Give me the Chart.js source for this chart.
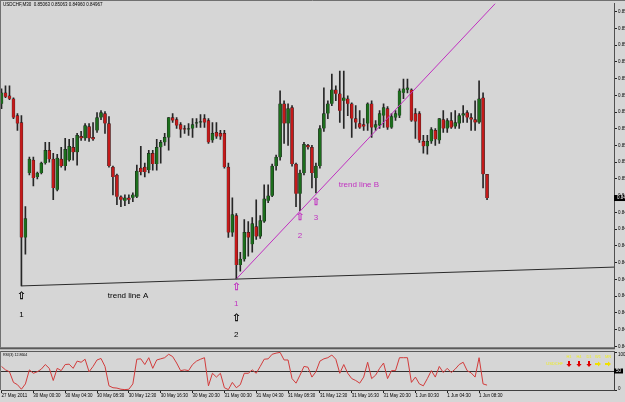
<!DOCTYPE html>
<html>
<head>
<meta charset="utf-8">
<script src="https://cdn.jsdelivr.net/npm/chart.js@4.4.0/dist/chart.umd.min.js"></script>
<style>
  html, body { margin: 0; padding: 0; background: #d6d6d6; overflow: hidden; }
  #wrap { position: relative; width: 625px; height: 402px; }
  #main { position: absolute; left: 0; top: 0; }
  #rsi { position: absolute; left: 0; top: 351px; }
</style>
</head>
<body>
<div id="wrap">
  <canvas id="main" width="625" height="351"></canvas>
  <canvas id="rsi" width="625" height="51"></canvas>
</div>
<script>
// USDCHF M30, bars 0..122 (27 May 2011 20:30 -> 1 Jun 09:30)
const opens = [
  0.85348,0.85392,0.85380,0.85368,0.85300,0.85272,0.84808,0.85068,0.85120,0.85052,
  0.85068,0.85108,0.85160,0.85124,0.85000,0.85124,0.85096,0.85120,0.85172,0.85152,
  0.85216,0.85208,0.85256,0.85212,0.85240,0.85292,0.85308,0.85268,0.85092,0.85060,
  0.84972,0.84956,0.84968,0.84968,0.84972,0.85088,0.85092,0.85080,0.85148,0.85104,
  0.85172,0.85192,0.85212,0.85292,0.85284,0.85264,0.85248,0.85244,0.85248,0.85268,
  0.85272,0.85288,0.85280,0.85200,0.85232,0.85228,0.85228,0.85092,0.84828,0.84896,
  0.84696,0.84720,0.84828,0.84780,0.84852,0.84812,0.84872,0.84956,0.84976,0.85096,
  0.85132,0.85348,0.85268,0.85332,0.85104,0.84984,0.85068,0.85180,0.85172,0.85048,
  0.85096,0.85248,0.85308,0.85348,0.85404,0.85388,0.85360,0.85368,0.85348,0.85288,
  0.85268,0.85264,0.85268,0.85348,0.85252,0.85260,0.85300,0.85328,0.85252,0.85292,
  0.85300,0.85392,0.85404,0.85404,0.85308,0.85308,0.85196,0.85176,0.85196,0.85240,
  0.85200,0.85284,0.85248,0.85280,0.85256,0.85268,0.85300,0.85312,0.85292,0.85284,
  0.85272,0.85372,0.85063
];
const highs = [
  0.85408,0.85420,0.85420,0.85372,0.85308,0.85300,0.84932,0.85132,0.85132,0.85072,
  0.85112,0.85192,0.85192,0.85148,0.85144,0.85172,0.85208,0.85204,0.85208,0.85228,
  0.85236,0.85268,0.85268,0.85272,0.85312,0.85320,0.85316,0.85296,0.85096,0.85064,
  0.84976,0.84980,0.84980,0.84988,0.85100,0.85176,0.85108,0.85160,0.85160,0.85204,
  0.85200,0.85228,0.85292,0.85308,0.85292,0.85272,0.85260,0.85268,0.85288,0.85288,
  0.85304,0.85304,0.85288,0.85272,0.85272,0.85240,0.85240,0.85108,0.84968,0.84904,
  0.84748,0.84880,0.84872,0.84888,0.84960,0.84896,0.85020,0.85020,0.85104,0.85140,
  0.85400,0.85360,0.85348,0.85340,0.85108,0.85080,0.85192,0.85184,0.85180,0.85108,
  0.85260,0.85412,0.85360,0.85468,0.85420,0.85480,0.85480,0.85380,0.85352,0.85340,
  0.85320,0.85288,0.85352,0.85360,0.85280,0.85320,0.85348,0.85336,0.85308,0.85320,
  0.85408,0.85448,0.85448,0.85408,0.85328,0.85316,0.85220,0.85220,0.85252,0.85248,
  0.85288,0.85320,0.85288,0.85312,0.85320,0.85308,0.85340,0.85320,0.85308,0.85360,
  0.85440,0.85392,0.85063
];
const lows = [
  0.85328,0.85372,0.85364,0.85288,0.85240,0.84612,0.84740,0.85060,0.85016,0.85044,
  0.85064,0.85104,0.85112,0.84960,0.84996,0.85092,0.85080,0.85116,0.85120,0.85100,
  0.85200,0.85200,0.85196,0.85200,0.85232,0.85284,0.85228,0.85092,0.84980,0.84940,
  0.84932,0.84936,0.84944,0.84952,0.84968,0.85060,0.85052,0.85068,0.85080,0.85080,
  0.85108,0.85180,0.85160,0.85272,0.85248,0.85212,0.85228,0.85220,0.85212,0.85252,
  0.85252,0.85252,0.85188,0.85192,0.85208,0.85204,0.85088,0.84808,0.84812,0.84640,
  0.84672,0.84712,0.84732,0.84748,0.84800,0.84804,0.84868,0.84948,0.84972,0.85080,
  0.85120,0.85188,0.85180,0.85096,0.84932,0.84916,0.85060,0.85164,0.85008,0.84988,
  0.85088,0.85236,0.85288,0.85340,0.85360,0.85272,0.85248,0.85300,0.85212,0.85248,
  0.85248,0.85240,0.85240,0.85212,0.85240,0.85248,0.85252,0.85244,0.85248,0.85280,
  0.85292,0.85368,0.85392,0.85276,0.85208,0.85192,0.85148,0.85144,0.85188,0.85180,
  0.85188,0.85232,0.85232,0.85248,0.85248,0.85248,0.85272,0.85272,0.85240,0.85240,
  0.85268,0.85008,0.84960
];
const closes = [
  0.85392,0.85376,0.85368,0.85292,0.85268,0.84808,0.84884,0.85124,0.85048,0.85068,
  0.85108,0.85160,0.85124,0.85008,0.85128,0.85096,0.85164,0.85176,0.85152,0.85220,
  0.85208,0.85260,0.85208,0.85204,0.85292,0.85312,0.85268,0.85096,0.85052,0.84972,
  0.84960,0.84968,0.84960,0.84980,0.85076,0.85072,0.85072,0.85148,0.85104,0.85172,
  0.85192,0.85212,0.85292,0.85280,0.85260,0.85244,0.85244,0.85248,0.85264,0.85272,
  0.85276,0.85272,0.85192,0.85228,0.85216,0.85216,0.85092,0.84828,0.84900,0.84696,
  0.84720,0.84828,0.84808,0.84864,0.84812,0.84876,0.84964,0.84976,0.85096,0.85132,
  0.85348,0.85268,0.85328,0.85104,0.84984,0.85068,0.85184,0.85172,0.85068,0.85096,
  0.85248,0.85308,0.85348,0.85404,0.85388,0.85320,0.85372,0.85348,0.85288,0.85272,
  0.85252,0.85256,0.85348,0.85252,0.85264,0.85308,0.85332,0.85252,0.85296,0.85308,
  0.85400,0.85408,0.85412,0.85280,0.85276,0.85200,0.85176,0.85196,0.85244,0.85204,
  0.85288,0.85248,0.85280,0.85252,0.85272,0.85300,0.85308,0.85292,0.85284,0.85272,
  0.85368,0.85063,0.84967
];
// RSI(3)
const rsi = [
  62,53,48,20,14,2,16,53,44,48,
  55,67,57,25,57,51,67,68,57,76,
  73,81,48,62,79,83,62,11,6,5,
  2,1,2,16,81,82,67,85,57,79,
  82,85,94,88,71,51,53,51,67,76,
  81,85,11,44,34,44,6,1,20,6,
  14,44,44,53,44,62,81,82,94,97,
  99,79,79,30,18,39,62,60,34,48,
  76,82,85,92,81,44,67,44,30,25,
  18,34,73,30,39,57,71,30,51,51,
  85,85,85,20,34,16,11,30,51,34,
  62,46,57,46,55,67,73,51,45,34,
  85,16,12.8604
];
// time axis: bar index of each label
const tickBars = [0, 8, 16, 24, 32, 40, 48, 56, 64, 72, 80, 88, 96, 104, 112, 120];
const tickLabels = ["27 May 2011", "30 May 00:30", "30 May 04:30", "30 May 08:30", "30 May 12:30",
  "30 May 16:30", "30 May 20:30", "31 May 00:30", "31 May 04:30", "31 May 08:30", "31 May 12:30",
  "31 May 16:30", "31 May 20:30", "1 Jun 00:30", "1 Jun 04:30", "1 Jun 08:30"];
const priceTicks = [0.85720, 0.85652, 0.85585, 0.85517, 0.85450, 0.85382, 0.85314, 0.85247,
  0.85179, 0.85112, 0.85044, 0.84976, 0.84909, 0.84841, 0.84774, 0.84706, 0.84638, 0.84571,
  0.84503, 0.84436, 0.84368];
// trend lines (bar index, price)
const trendA = [{x: 5, y: 0.84612}, {x: 154, y: 0.84688}];
const trendB = [{x: 59, y: 0.84640}, {x: 124.5, y: 0.85760}];
// signal panel
const tfNames = ['H1', 'H4', 'D1', 'W1', 'MN'];
const tfSignal = ['down', 'down', 'down', 'flat', 'flat'];

const BG = '#d6d6d6';
const PINK = '#c030c0';
const FONT = "'Liberation Sans', Arial, sans-serif";
const X_MIN = -0.13, X_MAX = 153.9;

const notes = [
  {x: 5, y: 0.84568, t: '\u21E7', c: '#000', arrow: true},
  {x: 5, y: 0.84496, t: '1', c: '#000'},
  {x: 31.8, y: 0.84572, t: 'trend line A', c: '#000'},
  {x: 59, y: 0.84604, t: '\u21E7', c: PINK, arrow: true},
  {x: 59, y: 0.84540, t: '1', c: PINK},
  {x: 59, y: 0.84480, t: '\u21E7', c: '#000', arrow: true},
  {x: 59, y: 0.84416, t: '2', c: '#000'},
  {x: 75, y: 0.84888, t: '\u21E7', c: PINK, arrow: true},
  {x: 75, y: 0.84816, t: '2', c: PINK},
  {x: 79, y: 0.84948, t: '\u21E7', c: PINK, arrow: true},
  {x: 79, y: 0.84888, t: '3', c: PINK},
  {x: 89.8, y: 0.85020, t: 'trend line B', c: PINK}
];

const bodyData = opens.map((o, i) => ({x: i, y: [o, closes[i]]}));
const wickData = opens.map((o, i) => ({x: i, y: [lows[i], highs[i]]}));
const bodyColors = opens.map((o, i) => closes[i] >= o ? '#1c6e1c' : '#c41a1a');
const rsiData = rsi.map((v, i) => ({x: i, y: v}));

const fillBg = {
  id: 'fillBg',
  beforeDraw(chart) {
    const ctx = chart.ctx;
    ctx.save();
    ctx.fillStyle = BG;
    ctx.fillRect(0, 0, chart.width, chart.height);
    ctx.restore();
  }
};

const mainExtras = {
  id: 'mainExtras',
  afterDatasetsDraw(chart) {
    const ctx = chart.ctx, xs = chart.scales.x, ys = chart.scales.y;
    ctx.save();
    ctx.textAlign = 'center';
    ctx.textBaseline = 'middle';
    notes.forEach(n => {
      const px = xs.getPixelForValue(n.x), py = ys.getPixelForValue(n.y);
      ctx.fillStyle = n.c;
      ctx.font = n.arrow ? "10px 'DejaVu Sans'" : "8px " + FONT;
      ctx.fillText(n.t, px, py);
      if (n.arrow) {
        ctx.strokeStyle = n.c;
        ctx.lineWidth = 0.3;
        ctx.strokeText(n.t, px, py);
      }
    });
    ctx.restore();
  },
  afterDraw(chart) {
    const ctx = chart.ctx, ys = chart.scales.y, a = chart.chartArea;
    ctx.save();
    ctx.strokeStyle = '#707070';
    ctx.lineWidth = 1;
    ctx.beginPath();
    ctx.moveTo(0.5, 0); ctx.lineTo(0.5, a.bottom);
    ctx.moveTo(0, 0.5); ctx.lineTo(chart.width, 0.5);
    ctx.stroke();
    ctx.fillStyle = '#5a5a5a';
    ctx.fillRect(0, a.bottom, a.right + 1, 2);
    // title
    ctx.fillStyle = '#000';
    ctx.font = "4.5px " + FONT;
    ctx.textBaseline = 'middle';
    ctx.fillText('USDCHF,M30  0.85063 0.85063 0.84960 0.84967', 3, 5);
    // current price box
    const cy = ys.getPixelForValue(closes[closes.length - 1]);
    ctx.fillStyle = '#000';
    ctx.fillRect(a.right, cy - 3, 12, 6);
    ctx.fillStyle = '#fff';
    ctx.fillText(closes[closes.length - 1].toFixed(5), a.right + 3, cy);
    ctx.restore();
  }
};

new Chart(document.getElementById('main'), {
  type: 'bar',
  data: {
    datasets: [
      {type: 'line', label: 'trend line A', data: trendA, borderColor: '#2a2a2a', borderWidth: 1, pointRadius: 0, order: 0},
      {type: 'line', label: 'trend line B', data: trendB, borderColor: PINK, borderWidth: 1, pointRadius: 0, order: 0},
      {label: 'body', data: bodyData, backgroundColor: bodyColors, borderColor: '#1a1a1a', borderWidth: 0.5,
        barThickness: 3, minBarLength: 1, grouped: false, order: 1},
      {label: 'wick', data: wickData, backgroundColor: '#262626', barThickness: 1, grouped: false, order: 2}
    ]
  },
  options: {
    responsive: false,
    animation: false,
    events: [],
    layout: {padding: {left: 1, top: 2, right: 0, bottom: 2}},
    plugins: {legend: {display: false}, tooltip: {enabled: false}},
    scales: {
      x: {type: 'linear', min: X_MIN, max: X_MAX, offset: false, display: false},
      y: {
        position: 'right',
        min: 0.84364,
        max: 0.85752,
        beginAtZero: false,
        afterFit(s) { s.width = 11; },
        afterBuildTicks(s) { s.ticks = priceTicks.map(v => ({value: v})); },
        ticks: {
          callback: v => v.toFixed(5),
          color: '#000',
          font: {size: 4.5, family: FONT},
          padding: 1,
          autoSkip: false
        },
        grid: {drawOnChartArea: false, tickLength: 3, color: '#222'},
        border: {color: '#505050'}
      }
    }
  },
  plugins: [fillBg, mainExtras]
});

// small block arrows for the signal panel
function blockArrow(ctx, cx, cy, dir, color) {
  ctx.save();
  ctx.translate(cx, cy);
  if (dir === 'flat') ctx.rotate(-Math.PI / 2);
  ctx.fillStyle = color;
  ctx.beginPath();
  ctx.moveTo(-1, -3); ctx.lineTo(1, -3); ctx.lineTo(1, 0); ctx.lineTo(2.6, 0);
  ctx.lineTo(0, 3); ctx.lineTo(-2.6, 0); ctx.lineTo(-1, 0);
  ctx.closePath();
  ctx.fill();
  ctx.restore();
}

const rsiExtras = {
  id: 'rsiExtras',
  beforeDatasetsDraw(chart) {
    const ctx = chart.ctx, ys = chart.scales.y, a = chart.chartArea;
    const y50 = Math.round(ys.getPixelForValue(50)) + 0.5;
    ctx.save();
    ctx.strokeStyle = '#303030';
    ctx.lineWidth = 1;
    ctx.beginPath();
    ctx.moveTo(a.left, y50); ctx.lineTo(a.right, y50);
    ctx.stroke();
    ctx.restore();
  },
  afterDraw(chart) {
    const ctx = chart.ctx, ys = chart.scales.y, a = chart.chartArea;
    ctx.save();
    ctx.fillStyle = '#5a5a5a';
    ctx.fillRect(0, 0, a.right + 1, 1);
    ctx.strokeStyle = '#707070';
    ctx.beginPath();
    ctx.moveTo(0.5, 0); ctx.lineTo(0.5, a.bottom);
    ctx.stroke();
    ctx.textBaseline = 'middle';
    ctx.fillStyle = '#000';
    ctx.font = "3.6px " + FONT;
    ctx.fillText('RSI(3) ' + rsi[rsi.length - 1].toFixed(4), 3, 4);
    // axis labels
    ctx.font = "4.5px " + FONT;
    ctx.fillText('100', a.right + 4, 4);
    ctx.fillText('0', a.right + 4, a.bottom - 1.5);
    const y50 = ys.getPixelForValue(50);
    ctx.fillRect(a.right, y50 - 2.5, 9, 5);
    ctx.fillStyle = '#fff';
    ctx.fillText('50', a.right + 2, y50);
    // signal panel
    ctx.font = "4px " + FONT;
    ctx.fillStyle = '#eeee22';
    ctx.textAlign = 'right';
    ctx.fillText('USDCHF', 563, 13);
    ctx.textAlign = 'center';
    const tfx = [569, 579, 589, 598, 608];
    tfNames.forEach((t, k) => {
      ctx.fillStyle = '#eeee22';
      ctx.fillText(t, tfx[k], 6);
      blockArrow(ctx, tfx[k], 13, tfSignal[k], tfSignal[k] === 'down' ? '#e00000' : '#f0e000');
    });
    ctx.restore();
  }
};

new Chart(document.getElementById('rsi'), {
  type: 'line',
  data: {
    datasets: [{label: 'RSI(3)', data: rsiData, borderColor: '#d23c3c', borderWidth: 1, pointRadius: 0, tension: 0}]
  },
  options: {
    responsive: false,
    animation: false,
    events: [],
    layout: {padding: {left: 1, top: 1, right: 0, bottom: 0}},
    plugins: {legend: {display: false}, tooltip: {enabled: false}},
    scales: {
      x: {
        type: 'linear',
        min: X_MIN,
        max: X_MAX,
        offset: false,
        afterFit(s) { s.height = 12; },
        afterBuildTicks(s) { s.ticks = tickBars.map(v => ({value: v})); },
        ticks: {
          callback: (v, i) => tickLabels[i],
          align: 'start',
          maxRotation: 0,
          autoSkip: false,
          color: '#000',
          font: {size: 4.5, family: FONT},
          padding: 0
        },
        grid: {drawOnChartArea: false, tickLength: 3, color: '#222'},
        border: {color: '#404040'}
      },
      y: {
        position: 'right',
        min: 0,
        max: 100,
        afterFit(s) { s.width = 11; },
        afterBuildTicks(s) { s.ticks = [{value: 0}, {value: 100}]; },
        ticks: {display: false},
        grid: {drawOnChartArea: false, tickLength: 3, color: '#222'},
        border: {color: '#404040'}
      }
    }
  },
  plugins: [fillBg, rsiExtras]
});
</script>
</body>
</html>
